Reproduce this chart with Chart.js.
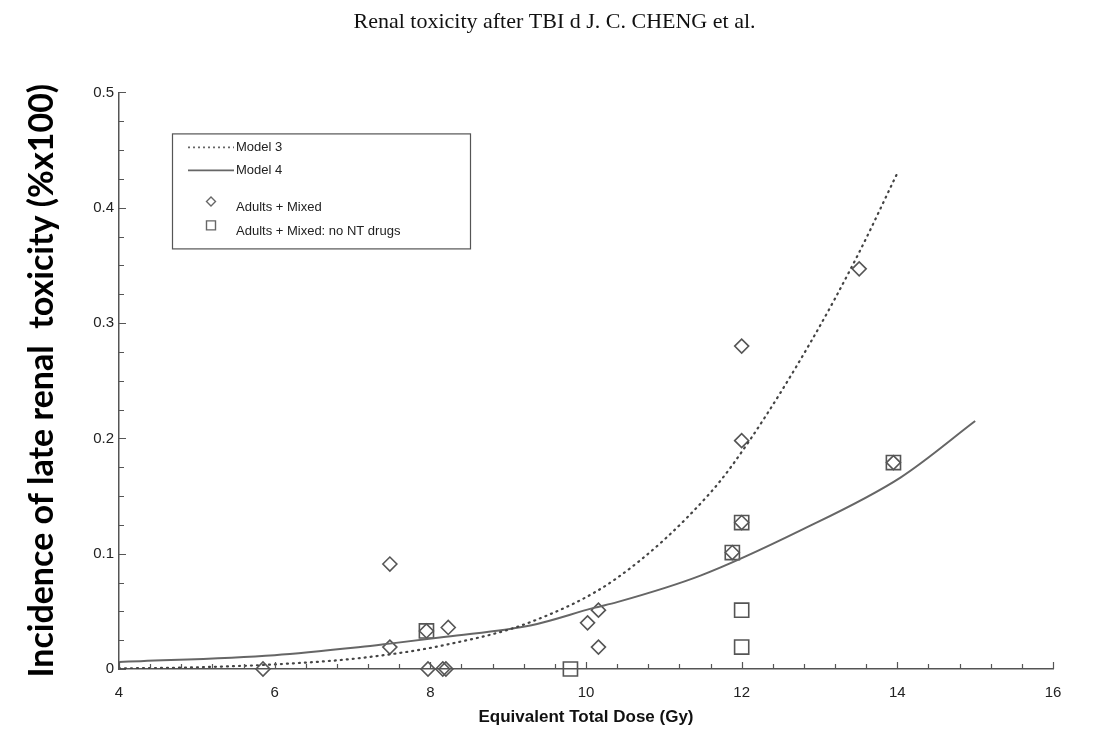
<!DOCTYPE html>
<html>
<head>
<meta charset="utf-8">
<script src="https://cdn.jsdelivr.net/npm/chart.js@4/dist/chart.umd.min.js"></script>
<style>
  html, body { margin: 0; padding: 0; background: #fff; }
  #wrap { width: 1109px; height: 742px; }
</style>
</head>
<body>
<div id="wrap"><canvas id="toxChart" width="1109" height="742"></canvas></div>
<script>
// values
var doseAdults = [5.85, 7.48, 7.48, 7.95, 7.97, 8.16, 8.2, 8.23, 10.02, 10.16, 10.16, 11.88, 12.0, 12.0, 12.0, 13.51, 13.95];
var incAdults  = [0, 0.091, 0.019, 0.033, 0, 0, 0, 0.036, 0.040, 0.051, 0.019, 0.101, 0.127, 0.198, 0.280, 0.347, 0.179];

var doseNoNT = [7.95, 9.8, 11.88, 12.0, 12.0, 12.0, 13.95];
var incNoNT  = [0.033, 0, 0.101, 0.127, 0.051, 0.019, 0.179];

var model3Dose = [4, 5, 6, 7.1, 8.2, 9.3, 10.4, 11.6, 12.1, 12.9, 13.5, 14.0];
var model3Inc  = [0.0005, 0.0015, 0.004, 0.0095, 0.021, 0.041, 0.079, 0.153, 0.198, 0.285, 0.36, 0.43];

var model4Dose = [4, 6, 7.1, 7.48, 8.2, 9.3, 10.1, 10.4, 11.47, 12.75, 14.04, 15.0];
var model4Inc  = [0.006, 0.012, 0.019, 0.022, 0.028, 0.038, 0.053, 0.058, 0.081, 0.12, 0.166, 0.215];

var seriesLabels = ['Model 3', 'Model 4', 'Adults + Mixed', 'Adults + Mixed: no NT drugs'];
var xRange = [4, 16];
var yRange = [0, 0.5];

function toPoints(xs, ys) {
  return xs.map(function (x, i) { return {x: x, y: ys[i]}; });
}

// small tick marks pointing into the plot, like the original
var innerTicks = {
  id: 'innerTicks',
  afterDraw: function (chart) {
    var ctx = chart.ctx, xs = chart.scales.x, ys = chart.scales.y;
    var area = chart.chartArea;
    ctx.save();
    ctx.strokeStyle = '#555';
    ctx.lineWidth = 1.2;
    ctx.beginPath();
    for (var i = 0; i <= 30; i++) {
      var v = xRange[0] + i * 0.4;
      var px = Math.round(xs.getPixelForValue(v)) + 0.5;
      var len = (i % 5 === 0) ? 7 : 5;
      ctx.moveTo(px, area.bottom);
      ctx.lineTo(px, area.bottom - len);
    }
    for (var j = 0; j <= 20; j++) {
      var w = yRange[0] + j * 0.025;
      var py = Math.round(ys.getPixelForValue(w)) + 0.5;
      var l2 = (j % 4 === 0) ? 7 : 5;
      ctx.moveTo(area.left, py);
      ctx.lineTo(area.left + l2, py);
    }
    ctx.stroke();
    ctx.restore();
  }
};

var legendBox = {
  id: 'legendBox',
  afterDraw: function (chart) {
    var ctx = chart.ctx, area = chart.chartArea;
    var x0 = area.left + 53, y0 = area.top + 41;
    var rows = [14, 37, 74, 98];
    ctx.save();
    ctx.fillStyle = '#fff';
    ctx.fillRect(x0, y0, 298, 115);
    ctx.strokeStyle = '#555';
    ctx.lineWidth = 1.2;
    ctx.strokeRect(x0 + 0.5, y0 + 0.5, 298, 115);
    ctx.font = '13px "Liberation Sans", Arial, sans-serif';
    ctx.fillStyle = '#222';
    ctx.textBaseline = 'middle';
    chart.data.datasets.forEach(function (ds, i) {
      var ry = y0 + rows[i];
      ctx.strokeStyle = '#666';
      if (i < 2) {
        ctx.lineWidth = 1.6;
        ctx.setLineDash(i === 0 ? [2, 3] : []);
        ctx.beginPath();
        ctx.moveTo(x0 + 16, ry);
        ctx.lineTo(x0 + 62, ry);
        ctx.stroke();
        ctx.setLineDash([]);
        ctx.fillText(ds.label, x0 + 64, ry);
      } else {
        ctx.lineWidth = 1.4;
        ctx.beginPath();
        var mx = x0 + 39, my = ry - 6;
        if (i === 2) {
          ctx.moveTo(mx - 4.5, my); ctx.lineTo(mx, my - 4.5);
          ctx.lineTo(mx + 4.5, my); ctx.lineTo(mx, my + 4.5);
          ctx.closePath();
        } else {
          ctx.rect(mx - 4.5, my - 4.5, 9, 9);
        }
        ctx.stroke();
        ctx.fillText(ds.label, x0 + 64, ry);
      }
    });
    ctx.restore();
  }
};

var toxChart = new Chart(document.getElementById('toxChart'), {
  type: 'scatter',
  data: {
    datasets: [{
      type: 'line',
      label: seriesLabels[0],
      data: toPoints(model3Dose, model3Inc),
      borderColor: '#444',
      borderWidth: 2.2,
      borderDash: [1, 5],
      borderCapStyle: 'round',
      pointRadius: 0,
      cubicInterpolationMode: 'monotone',
      fill: false
    }, {
      type: 'line',
      label: seriesLabels[1],
      data: toPoints(model4Dose, model4Inc),
      borderColor: '#666',
      borderWidth: 2,
      pointRadius: 0,
      cubicInterpolationMode: 'monotone',
      fill: false
    }, {
      label: seriesLabels[2],
      data: toPoints(doseAdults, incAdults),
      pointStyle: 'rectRot',
      pointRadius: 7,
      pointBorderWidth: 1.6,
      borderColor: '#555',
      backgroundColor: 'rgba(255,255,255,0)',
      clip: false
    }, {
      label: seriesLabels[3],
      data: toPoints(doseNoNT, incNoNT),
      pointStyle: 'rect',
      pointRadius: 10,
      pointBorderWidth: 1.6,
      borderColor: '#555',
      backgroundColor: 'rgba(255,255,255,0)',
      clip: false
    }]
  },
  options: {
    responsive: false,
    animation: false,
    devicePixelRatio: 1,
    layout: { padding: 0 },
    plugins: {
      legend: { display: false },
      tooltip: { enabled: false },
      title: {
        display: true,
        text: 'Renal toxicity after TBI d J. C. CHENG et al.',
        font: { family: '"Liberation Serif", "Times New Roman", serif', size: 22, weight: 'normal' },
        color: '#111',
        padding: { top: 9, bottom: 57 }
      }
    },
    scales: {
      x: {
        type: 'linear',
        min: xRange[0],
        max: xRange[1],
        afterFit: function (scale) { scale.height = 73; },
        border: { display: true, color: '#555', width: 1.5 },
        grid: { display: false, drawTicks: false },
        ticks: {
          stepSize: 2,
          padding: 15,
          color: '#222',
          font: { family: '"Liberation Sans", Arial, sans-serif', size: 15 }
        },
        title: {
          display: true,
          text: 'Equivalent Total Dose (Gy)',
          color: '#111',
          font: { family: '"Liberation Sans", Arial, sans-serif', size: 17, weight: 'bold' },
          padding: { top: 0, bottom: 14 }
        }
      },
      y: {
        type: 'linear',
        min: yRange[0],
        max: yRange[1],
        afterFit: function (scale) { scale.width = 119; },
        border: { display: true, color: '#555', width: 1.5 },
        grid: { display: false, drawTicks: false },
        ticks: {
          stepSize: 0.1,
          padding: 5,
          color: '#222',
          font: { family: '"Liberation Sans", Arial, sans-serif', size: 15 },
          callback: function (v) { return v === 0 ? '0' : v.toFixed(1); }
        },
        title: {
          display: true,
          text: 'Incidence of late renal  toxicity (%x100)',
          color: '#000',
          font: { family: 'Lato, "Open Sans", sans-serif', size: 34, weight: 'bold' },
          padding: { top: 22, bottom: 0 }
        }
      },
      // empty right-hand axis, only keeps the blank margin on the right
      yRight: {
        type: 'linear',
        position: 'right',
        min: yRange[0],
        max: yRange[1],
        afterFit: function (scale) { scale.width = 56; },
        border: { display: false },
        grid: { display: false, drawTicks: false },
        ticks: { display: false }
      }
    }
  },
  plugins: [innerTicks, legendBox]
});
</script>
</body>
</html>
